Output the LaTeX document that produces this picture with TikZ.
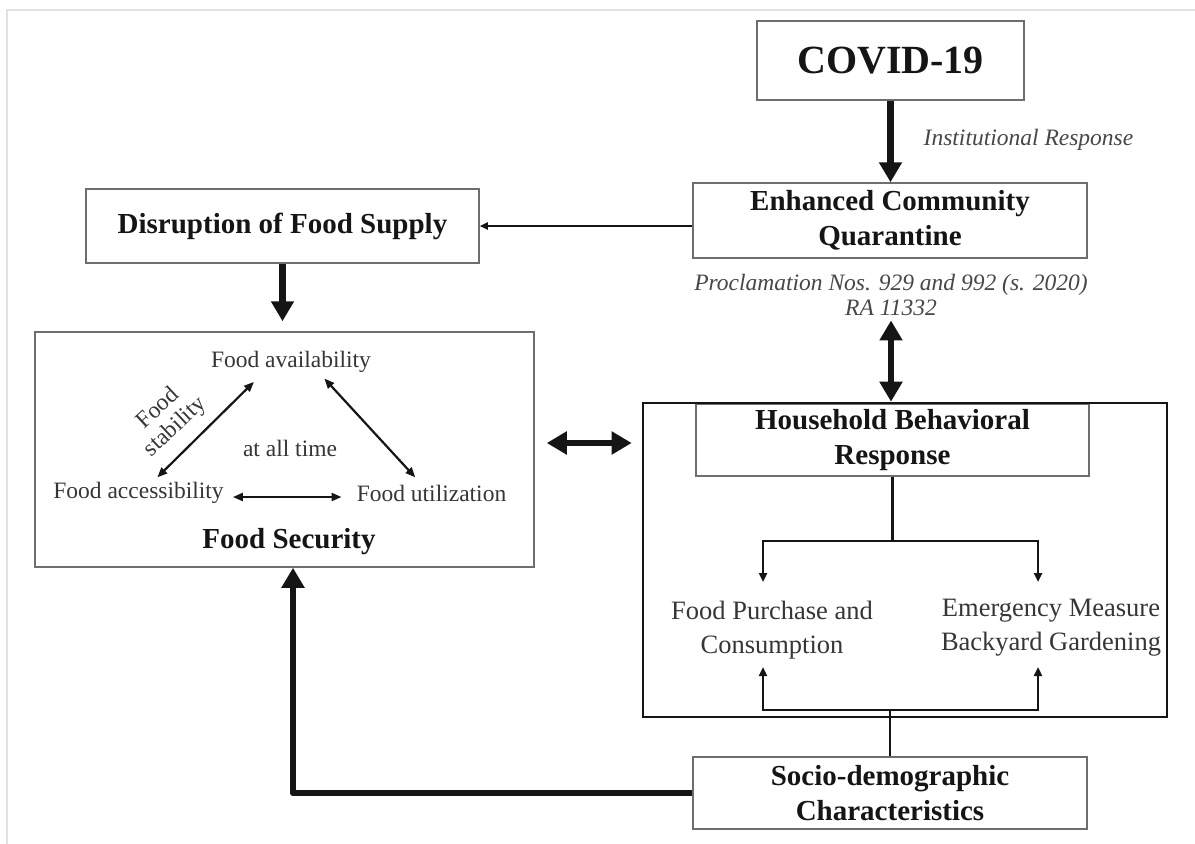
\documentclass[tikz,border=0pt]{standalone}
\usepackage{fontspec}
\setmainfont{Liberation Serif}
\usepackage{xcolor}
\usepackage{tikz}
\usetikzlibrary{arrows.meta}
\definecolor{ink}{HTML}{151515}
\definecolor{txt}{HTML}{363636}
\definecolor{muted}{HTML}{474747}
\definecolor{edge}{HTML}{6E6E6E}
\definecolor{faint}{HTML}{E2E2E2}
\newcommand{\fsz}[2]{\fontsize{#1}{#2}\selectfont}
\tikzset{
  box/.style={draw=edge, line width=1.5pt, fill=white, inner sep=0pt, align=center, text=ink, font=\bfseries\fsz{29}{35}},
  outer/.style={draw=ink, line width=2.6pt, inner sep=0pt},
  heavy/.style={draw=ink, line width=6.5pt, line join=round, -{Triangle[length=20pt,width=22pt]}},
  heavy2/.style={draw=ink, line width=6.5pt, {Triangle[length=20pt,width=22pt]}-{Triangle[length=20pt,width=22pt]}},
  slim/.style={draw=ink, line width=2pt, -{Triangle[length=8pt,width=7pt]}},
  slim2/.style={draw=ink, line width=2.2pt, {Triangle[length=10pt,width=8pt]}-{Triangle[length=10pt,width=8pt]}},
  tree/.style={draw=ink, line width=2.4pt},
  treea/.style={tree, -{Triangle[length=9pt,width=8pt]}},
  lab/.style={text=txt, font=\fsz{23.5}{27}, inner sep=2pt},
  labi/.style={text=muted, font=\itshape\fsz{23.5}{25}, inner sep=1pt, align=center},
  labt/.style={text=txt, font=\fsz{26.5}{34}, align=center, inner sep=0pt},
  labb/.style={text=ink, font=\bfseries\fsz{29}{35}, inner sep=0pt},
}
\begin{document}
\begin{tikzpicture}[x=1pt, y=-1pt]
  \fill[white] (0,0) rectangle (1195,844);
  \useasboundingbox (0,0) rectangle (1195,844);
  \draw[faint, line width=1.2pt] (7,844) -- (7,10) -- (1195,10);
  % boxes
  \node[box, minimum width=267pt, minimum height=79pt, font=\bfseries\fsz{40}{44}] (covid) at (890.5,60.5) {COVID-19};
  \node[box, minimum width=394pt, minimum height=75pt] (ecq) at (890,220.5) {Enhanced Community\\Quarantine};
  \node[box, minimum width=393pt, minimum height=74pt] (disrupt) at (282.5,226) {Disruption of Food Supply};
  \node[box, minimum width=499pt, minimum height=235pt] (fs) at (284.5,449.5) {};
  \node[box, minimum width=393pt, minimum height=72pt] (hbrin) at (892.5,440) {Household Behavioral\\Response};
  \node[outer, minimum width=524pt, minimum height=314pt] (hbr) at (905,560) {};
  \node[box, minimum width=394pt, minimum height=72pt] (socio) at (890,793) {Socio-demographic\\Characteristics};
  % food security
  \node[lab] (avail) at (291,362) {Food availability};
  \node[lab] (access) at (138.5,493) {Food accessibility};
  \node[lab] (util) at (431.5,493) {Food utilization};
  \node[lab] (always) at (290,448) {at all time};
  \node[lab, align=center, rotate=43, font=\fsz{23.5}{25}, inner sep=0pt] (stab) at (167,418) {Food\\stability};
  \node[labb] (fstitle) at (289,542) {Food Security};
  % notes
  \node[labi] (inst) at (1028.5,140) {Institutional Response};
  \node[labi] (procl) at (891,294.5) {Proclamation Nos. 929 and 992 (s. 2020)\\RA 11332};
  \node[labt] (purch) at (772,630) {Food Purchase and\\Consumption};
  \node[labt] (emerg) at (1051,627.5) {Emergency Measure\\Backyard Gardening};
  \coordinate (split) at (892.5,541);
  \coordinate (join) at (890,710);
  \coordinate (tl) at (763,582);
  \coordinate (tr) at (1038,582);
  \coordinate (bl) at (763,667);
  \coordinate (br) at (1038,667);
  % connectors
  \draw[heavy] (covid.south) -- (covid.south |- ecq.north);
  \draw[slim] (disrupt.east -| ecq.west) -- (disrupt.east);
  \draw[heavy, shorten >=10pt] (disrupt.south) -- (disrupt.south |- fs.north);
  \draw[heavy2, shorten <=4pt] (procl.south) -- (procl.south |- hbr.north);
  \draw[heavy2, shorten <=12pt, shorten >=10pt] ([yshift=6.5pt]fs.east) -- ([yshift=6.5pt]fs.east -| hbr.west);
  \draw[slim2, shorten <=4pt, shorten >=10pt] ([xshift=16pt]access.north) -- ([xshift=-30pt]avail.south);
  \draw[slim2, shorten <=5pt, shorten >=7pt] ([xshift=30pt]avail.south) -- ([xshift=-11.5pt]util.north);
  \draw[slim2, shorten <=7pt, shorten >=13pt] ([yshift=-4pt]access.east) -- ([yshift=-4pt]util.west);
  \draw[tree] (hbrin.south) -- (split);
  \draw[treea] (split) -| (tl);
  \draw[treea] (split) -| (tr);
  \draw[tree] (socio.north) -- (join);
  \draw[treea] (join) -| (bl);
  \draw[treea] (join) -| (br);
  \draw[heavy] (socio.west) -| ([xshift=8.5pt]fs.south);
\end{tikzpicture}
\end{document}
